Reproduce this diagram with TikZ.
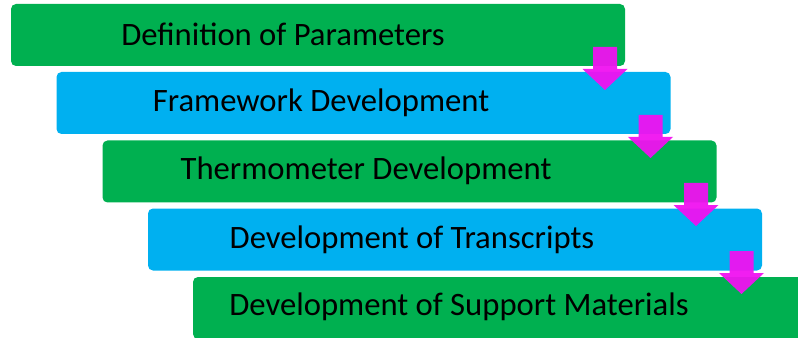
\documentclass[tikz,border=0pt]{standalone}
\usepackage{fontspec}
\setmainfont{Carlito}

\tikzset{every picture/.style={line width=0.75pt}}
\tikzset{
  stepbar/.style={draw=none,rounded corners=3.75pt,inner sep=0pt,minimum width=460.5pt,minimum height=46.5pt},
  greenbar/.style={stepbar,fill={rgb, 255:red, 0; green, 176; blue, 80 }},
  bluebar/.style={stepbar,fill={rgb, 255:red, 0; green, 176; blue, 240 }},
  steplabel/.style={inner sep=0.75pt,font=\fontsize{24.5}{28}\selectfont},
  downarrow/.style={fill={rgb, 255:red, 240; green, 18; blue, 240 },fill opacity=0.95,draw=none}
}

\begin{document}
\begin{tikzpicture}[x=0.75pt,y=0.75pt,yscale=-1,xscale=1]
\useasboundingbox (0,0) rectangle (798,338);
\clip (0,0) rectangle (798,338);

%Bars
\node [greenbar] (bar1) at (318,35) {};
\node [bluebar]  (bar2) at (363.5,103) {};
\node [greenbar] (bar3) at (409.5,171.5) {};
\node [bluebar]  (bar4) at (455,239.5) {};
\node [greenbar] (bar5) at (500,308) {};

% Text Nodes
\node [steplabel] (txt1) at (283,34.5) {Definition of Parameters};
\node [steplabel] (txt2) at (321,102.5) {Framework Development};
\node [steplabel] (txt3) at (366,170.5) {Thermometer Development};
\node [steplabel] (txt4) at (412,239.5) {Development of Transcripts};
\node [steplabel] (txt5) at (459,306.5) {Development of Support Materials};

%Down arrows between the bars
\foreach \i/\ax/\ay in {1/605/47, 2/650.5/115, 3/696/183, 4/741.5/251}{
  \fill [downarrow] (\ax-12,\ay) -- (\ax+12,\ay) -- (\ax+12,\ay+22) -- (\ax+22.5,\ay+22)
     -- (\ax,\ay+43) -- (\ax-22.5,\ay+22) -- (\ax-12,\ay+22) -- cycle ;
}

\end{tikzpicture}
\end{document}
